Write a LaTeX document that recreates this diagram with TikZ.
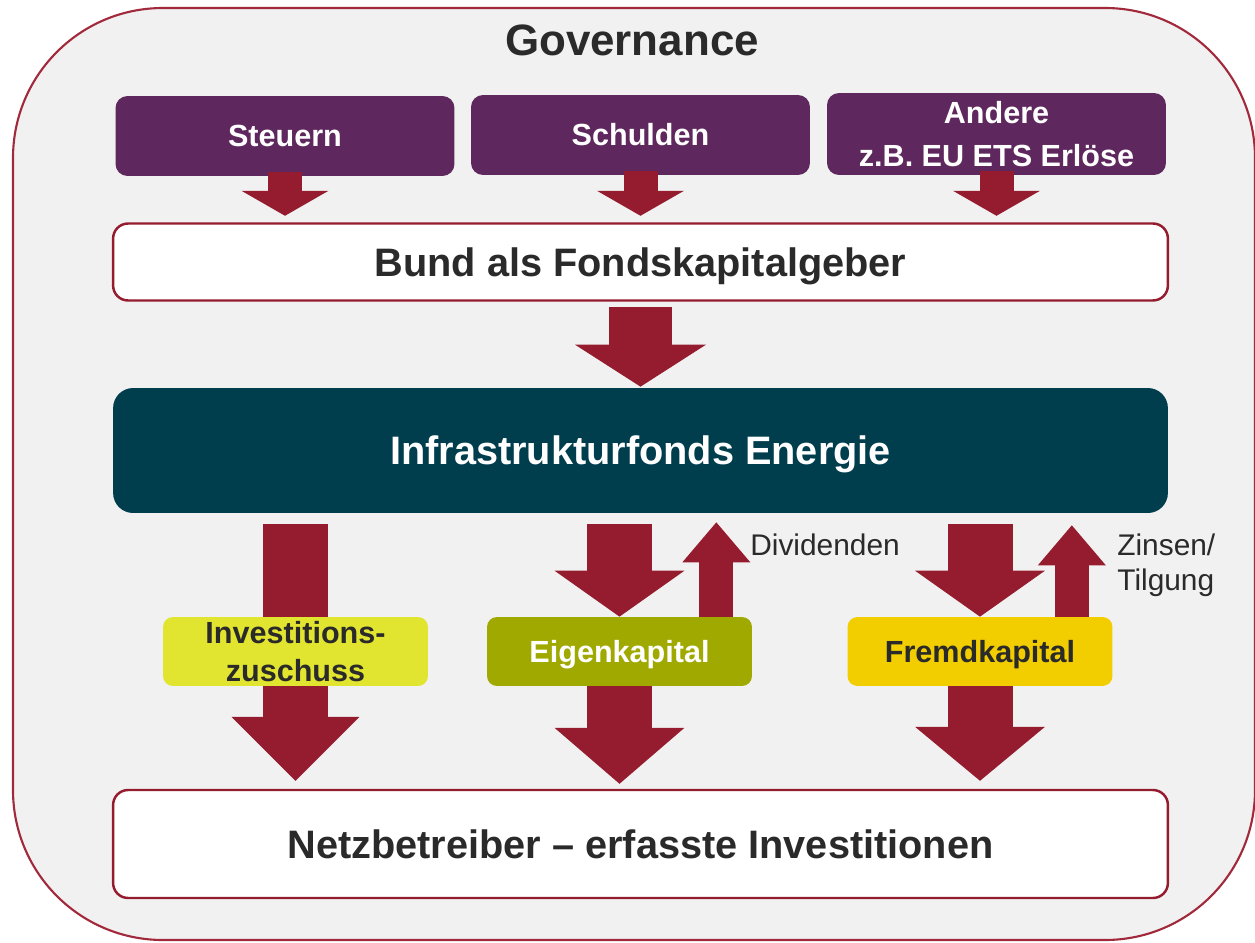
\documentclass[tikz,border=0pt]{standalone}
\usepackage{fontspec}
\setmainfont{Liberation Sans}
\usetikzlibrary{arrows.meta,calc}
\definecolor{fondsred}{HTML}{951B2F}
\definecolor{framered}{HTML}{A1293B}
\definecolor{srcpurple}{HTML}{5E275D}
\definecolor{fondsteal}{HTML}{003D4D}
\definecolor{zuschussgelb}{HTML}{E2E52F}
\definecolor{eigenoliv}{HTML}{A0A900}
\definecolor{fremdgold}{HTML}{F2CD00}
\definecolor{paneel}{HTML}{F1F1F1}
\definecolor{textgray}{HTML}{2A2A2A}
\newcommand{\bigfont}{\fontsize{22.6}{27}\selectfont\bfseries}
\newcommand{\midfont}{\fontsize{17.4}{22}\selectfont\bfseries}
\newcommand{\notefont}{\fontsize{17}{20}\selectfont}
\tikzset{
  box/.style={rectangle, align=center, inner sep=0pt, font=\midfont},
  source/.style={box, fill=srcpurple, text=white, minimum width=6.78cm,
    minimum height=1.6cm, rounded corners=0.24cm},
  level/.style={box, draw=fondsred, line width=1.4pt, fill=white, text=textgray,
    font=\bigfont, minimum width=21.1cm, rounded corners=0.3cm},
  kind/.style={box, minimum width=5.3cm, minimum height=1.38cm, rounded corners=0.2cm},
  note/.style={font=\notefont, text=textgray, inner sep=0pt, align=left, anchor=west},
  flow/.style n args={3}{draw=fondsred, line width=#1,
    -{Triangle[width=#2, length=#3, line width=0pt]}}
}

\begin{document}
\begin{tikzpicture}[x=0.02cm, y=-0.02cm]
  \useasboundingbox (0,0) rectangle (1255,943);
  \fill[white] (0,0) rectangle (1255,943);
  % governance frame
  \draw[framered, fill=paneel, line width=1.2pt, rounded corners=3cm] (13,8) rectangle (1255,940);
  \node[font=\fontsize{25}{30}\selectfont\bfseries, text=textgray] (gov) at (632,40) {Governance};

  % sources of money
  \node[source] (steuern) at (285,136) {Steuern};
  \node[source] (schulden) at (640.5,135) {Schulden};
  \node[source, font=\fontsize{17.4}{24}\selectfont\bfseries, minimum height=1.64cm] (andere) at (996.5,134) {Andere\\z.B. EU ETS Erlöse};

  \node[level, minimum height=1.54cm, text depth=0pt] (bund) at (640.5,262) {Bund als Fondskapitalgeber};
  \node[box, fill=fondsteal, text=white, font=\bigfont, minimum width=21.1cm, text depth=0pt,
    minimum height=2.5cm, rounded corners=0.4cm] (infra) at (640.5,450.5) {Infrastrukturfonds Energie};
  \node[level, minimum height=2.16cm] (netz) at (640.5,844) {Netzbetreiber -- erfasste Investitionen};

  % money into the fund
  \foreach \src in {steuern,schulden,andere}
    \draw[flow={0.68cm}{1.74cm}{0.5cm}, shorten <=-0.08cm, shorten >=0.13cm]
      (\src.south) -- (bund.north -| \src.south);
  \draw[flow={1.28cm}{2.62cm}{0.84cm}, shorten <=0.11cm, shorten >=0.02cm]
    (bund.south) -- (infra.north);

  % zuschuss runs behind its box
  \coordinate (zuschussx) at (295.5,651.5);
  \draw[flow={1.3cm}{2.56cm}{1.28cm}, shorten <=0.22cm, shorten >=0.16cm]
    (infra.south -| zuschussx) -- (netz.north -| zuschussx);

  \node[kind, fill=zuschussgelb, text=textgray, font=\fontsize{17.4}{22}\selectfont\bfseries] (zuschuss) at (zuschussx) {Investitions-\\zuschuss};
  \node[kind, fill=eigenoliv, text=white, text depth=0pt] (eigen) at (619.5,651.5) {Eigenkapital};
  \node[kind, fill=fremdgold, text=textgray, text depth=0pt] (fremd) at (980,651.5) {Fremdkapital};

  % capital flows
  \foreach \kap in {eigen,fremd}
    \draw[flow={1.3cm}{2.6cm}{0.92cm}, shorten <=0.22cm]
      (infra.south -| \kap.north) -- (\kap.north);
  \draw[flow={1.3cm}{2.6cm}{1.12cm}, shorten >=0.1cm]
    (eigen.south) -- (netz.north -| eigen.south);
  \draw[flow={1.3cm}{2.6cm}{1.08cm}, shorten >=0.16cm]
    (fremd.south) -- (netz.north -| fremd.south);

  % returns
  \coordinate (divfoot) at ([xshift=-0.72cm]eigen.north east);
  \coordinate (zinsfoot) at ([xshift=-0.82cm]fremd.north east);
  \draw[flow={0.68cm}{1.36cm}{0.8cm}, shorten >=0.18cm] (divfoot) -- (infra.south -| divfoot);
  \draw[flow={0.68cm}{1.36cm}{0.8cm}, shorten >=0.24cm] (zinsfoot) -- (infra.south -| zinsfoot);
  \node[note] (div) at (750,545) {Dividenden};
  \node[note, font=\fontsize{17}{20}\selectfont] (zins) at (1117,565) {Zinsen/\\Tilgung};
\end{tikzpicture}
\end{document}
